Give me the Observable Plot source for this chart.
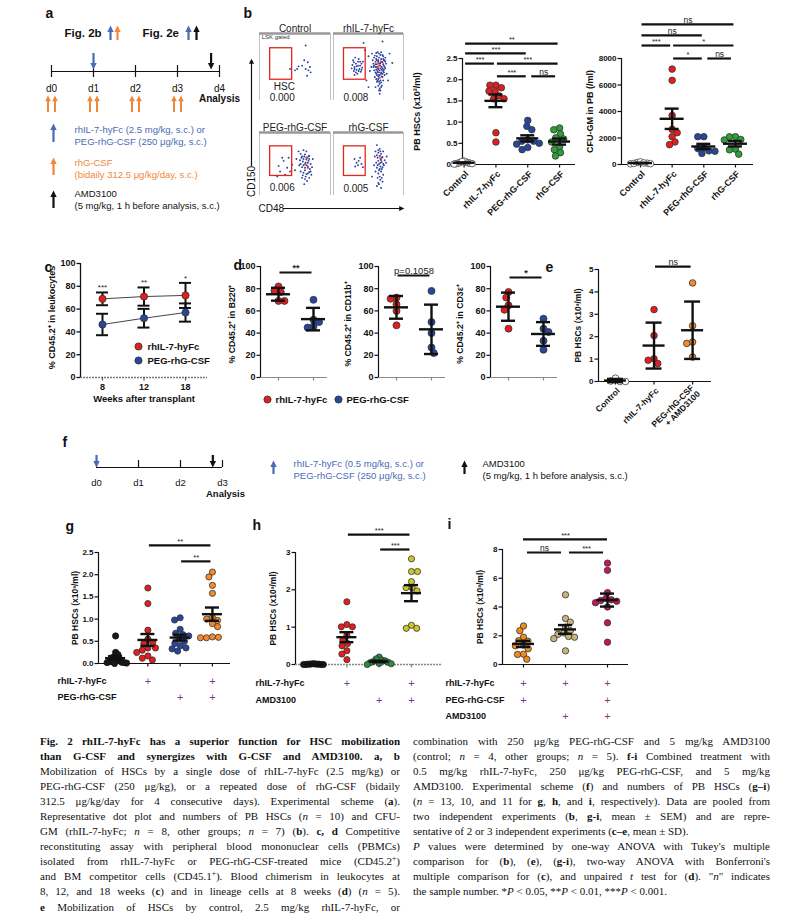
<!DOCTYPE html>
<html>
<head>
<meta charset="utf-8">
<title>Fig. 2</title>
<script src="https://cdn.jsdelivr.net/npm/d3@7"></script>
<script src="https://cdn.jsdelivr.net/npm/@observablehq/plot@0.6"></script>
<style>
html,body{margin:0;padding:0;background:#fff;}
#page{position:relative;width:806px;height:920px;overflow:hidden;background:#fff;}
#page svg{position:absolute;left:0;top:0;}
.cap{position:absolute;top:733.5px;font-family:"Liberation Serif","Times New Roman",serif;font-size:11px;line-height:15.1px;color:#111;}
.cap div{text-align:justify;text-align-last:justify;white-space:nowrap;}
.cap div.l{text-align:left;text-align-last:left;}
.cap sup{font-size:7.5px;line-height:0;vertical-align:4px;}
</style>
</head>
<body>
<div id="page">
<div class="cap" style="left:40px;width:360px">
<div><b>Fig. 2 rhIL-7-hyFc has a superior function for HSC mobilization</b></div>
<div><b>than G-CSF and synergizes with G-CSF and AMD3100. a, b</b></div>
<div>Mobilization of HSCs by a single dose of rhIL-7-hyFc (2.5 mg/kg) or</div>
<div>PEG-rhG-CSF (250 μg/kg), or a repeated dose of rhG-CSF (bidaily</div>
<div>312.5 μg/kg/day for 4 consecutive days). Experimental scheme (<b>a</b>).</div>
<div>Representative dot plot and numbers of PB HSCs (<i>n</i> = 10) and CFU-</div>
<div>GM (rhIL-7-hyFc; <i>n</i> = 8, other groups; <i>n</i> = 7) (<b>b</b>). <b>c, d</b> Competitive</div>
<div>reconstituting assay with peripheral blood mononuclear cells (PBMCs)</div>
<div>isolated from rhIL-7-hyFc or PEG-rhG-CSF-treated mice (CD45.2<sup>+</sup>)</div>
<div>and BM competitor cells (CD45.1<sup>+</sup>). Blood chimerism in leukocytes at</div>
<div>8, 12, and 18 weeks (<b>c</b>) and in lineage cells at 8 weeks (<b>d</b>) (<i>n</i> = 5).</div>
<div><b>e</b> Mobilization of HSCs by control, 2.5 mg/kg rhIL-7-hyFc, or</div>
</div>
<div class="cap" style="left:413px;width:357px">
<div>combination with 250 μg/kg PEG-rhG-CSF and 5 mg/kg AMD3100</div>
<div>(control; <i>n</i> = 4, other groups; <i>n</i> = 5). <b>f-i</b> Combined treatment with</div>
<div>0.5 mg/kg rhIL-7-hyFc, 250 μg/kg PEG-rhG-CSF, and 5 mg/kg</div>
<div>AMD3100. Experimental scheme (<b>f</b>) and numbers of PB HSCs (<b>g–i</b>)</div>
<div>(<i>n</i> = 13, 10, and 11 for <b>g</b>, <b>h</b>, and <b>i</b>, respectively). Data are pooled from</div>
<div>two independent experiments (<b>b</b>, <b>g-i</b>, mean ± SEM) and are repre-</div>
<div class="l">sentative of 2 or 3 independent experiments (<b>c–e</b>, mean ± SD).</div>
<div><i>P</i> values were determined by one-way ANOVA with Tukey's multiple</div>
<div>comparison for (<b>b</b>), (<b>e</b>), (<b>g-i</b>), two-way ANOVA with Bonferroni's</div>
<div>multiple comparison for (<b>c</b>), and unpaired <i>t</i> test for (<b>d</b>). "<i>n</i>" indicates</div>
<div class="l">the sample number. *<i>P</i> &lt; 0.05, **<i>P</i> &lt; 0.01, ***<i>P</i> &lt; 0.001.</div>
</div>
</div>
<script>
// ===================== DATA =====================
// a: experimental scheme (days)
const aDayLabels = ["d0", "d1", "d2", "d3", "d4"];
const aGcsfDays = [0, 1, 2, 3];
const aSingleDoseDays = [1];
const aAmdDays = [3.8];
const aLegend = ["rhIL-7-hyFc (2.5 mg/kg, s.c.) or", "PEG-rhG-CSF (250 μg/kg, s.c.)",
  "rhG-CSF", "(bidaily 312.5 μg/kg/day, s.c.)",
  "AMD3100", "(5 mg/kg, 1 h before analysis, s.c.)"];

// b: representative flow plots (CD48, CD150)
const bFlowTitles = ["Control", "rhIL-7-hyFc", "PEG-rhG-CSF", "rhG-CSF"];
const bFlowFreq = ["0.000", "0.008", "0.006", "0.005"];
const bFlowControl = [[65,82],[68,57],[60,52],[55,51],[53,47],[65,47],[69,45],[72,42],[67,37],[43,47],[63,60],[71,50],[50,45]];
const bFlowRhIL7 = [[28,60],[32,55],[30,50],[35,58],[38,52],[26,48],[33,46],[36,62],[40,55],[29,44],[34,40],[37,47],[31,64],[41,49],[27,53],[39,43],[42,58],[30,38],
  [29,57],[33,51],[36,44],[38,58],[30,47],[35,52],[40,46],[32,42],
  [55,70],[58,64],[60,58],[62,66],[64,60],[66,55],[68,62],[70,57],[60,50],[63,48],[66,45],[69,50],[72,52],[58,45],[61,40],[65,38],[68,42],[71,44],[74,48],[62,54],[67,68],[57,55],[59,35],[64,32],[67,30],[70,35],[73,38],[62,28],[66,25],[69,22],[72,60],[75,55],[63,72],[70,68],[56,60],[54,50],[52,44],[50,66],[76,40],[65,15],[60,20],[61,62],[65,64],[69,46],[63,42],[71,62],[57,50],[74,64],[66,10],
  [59,67],[61,71],[65,70],[68,72],[71,66],[73,60],[74,58],[62,60],[64,58],[67,56],[69,58],[71,54],[73,50],[60,54],[62,50],[64,47],[67,52],[70,48],[72,46],[58,52],[61,46],[63,44],[65,42],[68,40],[70,40],[72,42],[60,42],[62,38],[64,36],[66,38],[69,36],[71,30],[61,32],[63,30],[65,28],[68,27],[64,22],[66,18],[68,20],[67,15],
  [43,86],[70,88],[80,70],[78,30],[47,30],[50,20],[45,75],[84,56]];
const bFlowRhIL7Hi = [[65,52],[67,48],[64,56],[66,34],[68,58],[63,50]];
const bFlowPEG = [[32,60],[34,55],[27,47],[39,44],[43,38],[29,38],[36,33],[25,30],[41,60],[46,49],
  [55,70],[58,66],[62,72],[60,62],[64,65],[67,60],[70,63],[57,56],[61,54],[65,52],[69,55],[72,50],[56,48],[60,45],[64,44],[68,46],[71,42],[74,45],[58,38],[62,36],[66,34],[70,37],[73,33],[60,28],[64,26],[67,23],[70,28],[63,18],[52,58],[75,58],[50,40],[66,70],
  [59,60],[63,62],[66,57],[68,52],[70,58],[62,48],[66,48],[64,40],[68,35],[72,38],[61,32],[65,30],[58,50],[62,58],[69,62]];
const bFlowPEGHi = [[66,60],[68,44],[64,50]];
const bFlowRhG = [[30,58],[33,52],[36,55],[40,50],[31,46],[38,60],[42,45],[35,48],
  [62,80],[66,74],[60,70],[64,68],[68,66],[71,70],[59,62],[63,60],[67,58],[70,61],[73,56],[61,52],[65,50],[69,53],[72,48],[75,52],[62,44],[66,42],[70,45],[60,38],[64,35],[68,38],[71,33],[63,28],[67,25],[70,22],[65,18],[68,12],[62,15],[58,48],[76,62],[55,30],
  [64,72],[67,70],[62,64],[66,62],[69,60],[64,55],[67,52],[71,50],[63,48],[67,46],[65,40],[69,42],[66,30],[69,28],[64,20]];
const bFlowRhGHi = [[66,63],[68,56]];
const bGate = [15, 46, 31, 78];

// b: PB HSCs (x10^3/ml) and CFU-GM (/ml)
const bGroups = ["Control", "rhIL-7-hyFc", "PEG-rhG-CSF", "rhG-CSF"];
const bHscControl = [0.05, 0.03, 0.02, 0.06, 0.08, 0.01, 0.04, 0.03, 0.02, 0.07];
const bHscRhIL7 = [1.87, 1.87, 1.81, 1.73, 1.73, 1.62, 1.55, 1.55, 0.75, 0.53];
const bHscPEG = [1.04, 0.90, 0.82, 0.58, 0.55, 0.55, 0.50, 0.48, 0.40, 0.35];
const bHscRhG = [0.86, 0.82, 0.72, 0.63, 0.60, 0.53, 0.42, 0.35, 0.28, 0.20];
const bHscSig = [[0, 3, "**"], [0, 2, "***"], [0, 1, "***"], [1, 3, "***"], [1, 2, "***"], [2, 3, "ns"]];
const bCfuControl = [100, 150, 50, 200, 80, 120, 60];
const bCfuRhIL7 = [7200, 6350, 3700, 2650, 2400, 2100, 1700, 1500];
const bCfuPEG = [2100, 2100, 1260, 1200, 1030, 1000, 830];
const bCfuRhG = [2100, 2090, 1890, 1850, 1160, 1110, 780];
const bCfuSig = [[0, 3, "ns"], [0, 2, "ns"], [0, 1, "***"], [1, 3, "*"], [1, 2, "*"], [2, 3, "ns"]];

// c: % CD45.2+ in leukocytes
const cWeeks = [8, 12, 18];
const cSeries = ["rhIL-7-hyFc", "PEG-rhG-CSF"];
const cRhIL7Mean = [69, 71, 72];
const cRhIL7SD = [5.6, 8, 11];
const cPEGMean = [46.5, 52, 57];
const cPEGSD = [9.4, 8.2, 8];
const cStars = ["***", "**", "*"];

// d: % CD45.2+ in lineages at 8 weeks
const dLineages = ["B220⁺", "CD11b⁺", "CD3ε⁺"];
const dRhIL7 = [[82, 78, 77, 69, 69], [72, 71, 66, 60, 47], [77, 72, 65, 61, 44]];
const dPEG = [[70, 52, 50, 46, 45], [78, 50, 40, 27, 22], [53, 44, 41, 33, 25]];
const dSig = ["**", "p=0.1058", "*"];

// e: PB HSCs
const eGroups = ["Control", "rhIL-7-hyFc", "PEG-rhG-CSF\n+ AMD3100"];
const eControl = [0, 0.15, 0.02, 0];
const eRhIL7 = [3.21, 2.05, 1.01, 0.95, 0.80];
const ePegAmd = [4.40, 2.49, 1.76, 1.70, 1.09];

// f: scheme
const fDayLabels = ["d0", "d1", "d2", "d3"];
const fSingleDoseDays = [0];
const fAmdDays = [2.77];
const fLegendBlue = ["rhIL-7-hyFc (0.5 mg/kg, s.c.) or", "PEG-rhG-CSF (250 μg/kg, s.c.)"];
const fLegendBlack = ["AMD3100", "(5 mg/kg, 1 h before analysis, s.c.)"];

// g
const gControl = [0.62, 0.25, 0.20, 0.15, 0.10, 0.08, 0.05, 0.04, 0.03, 0.02, 0.02, 0.01, 0.00];
const gRhIL7 = [1.70, 1.35, 0.75, 0.55, 0.47, 0.45, 0.35, 0.35, 0.30, 0.25, 0.17, 0.12, 0.08];
const gPEG = [1.03, 0.98, 0.77, 0.68, 0.65, 0.62, 0.55, 0.50, 0.45, 0.40, 0.35, 0.33, 0.28];
const gCombo = [2.06, 1.95, 1.76, 1.58, 1.04, 1.00, 0.97, 0.90, 0.83, 0.60, 0.59, 0.58, 0.58];
const gSig = [[1, 3, "**"], [2, 3, "**"]];
const gRows = ["rhIL-7-hyFc", "PEG-rhG-CSF"];
const gPlus = [[0, 1, 0, 1], [0, 0, 1, 1]];

// h
const hControl = [0.02, 0.01, 0.0, 0.01, 0.0, 0.02, 0.0, 0.01, 0.0, 0.01];
const hRhIL7 = [1.68, 1.07, 1.01, 1.01, 0.78, 0.66, 0.56, 0.50, 0.37, 0.28, 0.13];
const hAMD = [0.20, 0.15, 0.12, 0.10, 0.08, 0.06, 0.05, 0.03, 0.02, 0.0];
const hCombo = [2.83, 2.49, 2.49, 2.22, 2.06, 1.97, 1.05, 0.97, 0.97, 2.06];
const hSig = [[1, 3, "***"], [2, 3, "***"]];
const hRows = ["rhIL-7-hyFc", "AMD3100"];
const hPlus = [[0, 1, 0, 1], [0, 0, 1, 1]];

// i
const iRhIL7PEG = [2.68, 2.35, 1.90, 1.65, 1.62, 1.35, 1.30, 1.10, 0.72, 0.70, 0.37];
const iRhIL7AMD = [4.85, 3.20, 2.95, 2.60, 2.35, 2.20, 2.10, 1.95, 1.90, 1.80, 0.95];
const iTriple = [7.05, 6.55, 5.00, 4.60, 4.50, 4.45, 4.40, 4.30, 4.00, 2.90, 1.55];
const iSig = [[0, 2, "***"], [0, 1, "ns"], [1, 2, "***"]];
const iRows = ["rhIL-7-hyFc", "PEG-rhG-CSF", "AMD3100"];
const iPlus = [[1, 1, 1], [1, 0, 1], [0, 1, 1]];

const panelLetters = ["a", "b", "c", "d", "e", "f", "g", "h", "i"];

// ===================== LAYOUT / STYLE =====================
const FONT = '"Liberation Sans", Arial, Helvetica, sans-serif';
const RED = "#e31e1e", NAVY = "#27469c", GREEN = "#2f9f3a", ORANGE = "#f48a2c";
const BLUE_A = "#4a6cb6", ORANGE_A = "#f0873a";
const page = document.getElementById("page");
const letterPos = [[45, 18], [243, 18], [44, 272], [233, 270], [545, 272], [62, 447], [65, 531], [252, 530], [447, 529]];

function geom(fx0, fx1, fy0, fy1, xd, yd) {
  return {
    fx0, fx1, fy0, fy1, xd, yd,
    ux: p => xd[0] + (p - fx0) * (xd[1] - xd[0]) / (fx1 - fx0),
    uy: p => yd[0] + (fy1 - p) * (yd[1] - yd[0]) / (fy1 - fy0),
    dxu: n => n * (xd[1] - xd[0]) / (fx1 - fx0),
    dyu: n => n * (yd[1] - yd[0]) / (fy1 - fy0)
  };
}
function render(g, marks) {
  const svg = Plot.plot({
    width: 806, height: 920,
    marginLeft: g.fx0, marginRight: 806 - g.fx1, marginTop: g.fy0, marginBottom: 920 - g.fy1,
    x: {type: "linear", domain: g.xd, axis: null},
    y: {type: "linear", domain: g.yd, axis: null},
    style: {background: "transparent", fontFamily: FONT, overflow: "visible"},
    marks
  });
  page.appendChild(svg);
}
const triUp = {draw(c, s) { const r = Math.sqrt(s / Math.PI); c.moveTo(0, -r * 1.1); c.lineTo(r, r * 0.9); c.lineTo(-r, r * 0.9); c.closePath(); }};
const triDown = {draw(c, s) { const r = Math.sqrt(s / Math.PI); c.moveTo(0, r * 1.1); c.lineTo(r, -r * 0.9); c.lineTo(-r, -r * 0.9); c.closePath(); }};
const triRight = {draw(c, s) { const r = Math.sqrt(s / Math.PI); c.moveTo(r * 1.1, 0); c.lineTo(-r * 0.9, r); c.lineTo(-r * 0.9, -r); c.closePath(); }};
// arrows in plots whose y scale is in page pixels
function arrows(xs, tail, tip, color, r = 3.2, sw = 2.2) {
  const up = tip < tail;
  return [
    Plot.ruleX(xs, {x: d => d, y1: tail, y2: up ? tip + r * 1.6 : tip - r * 1.6, stroke: color, strokeWidth: sw}),
    Plot.dot(xs, {x: d => d, y: up ? tip + r * 1.1 : tip - r * 1.1, r, symbol: up ? triUp : triDown, fill: color})
  ];
}
function swarm(values, pyu, D, maxHalf) {
  const idx = values.map((v, i) => i).sort((a, b) => values[b] - values[a]);
  const placed = [], out = new Array(values.length).fill(0);
  idx.forEach((i, k) => {
    const y = values[i] * pyu;
    const cands = [0];
    placed.forEach(p => {
      const dy = Math.abs(y - p.y);
      if (dy < D) { const dx = Math.sqrt(D * D - dy * dy); cands.push(p.x + dx, p.x - dx); }
    });
    cands.sort((a, b) => Math.abs(a) - Math.abs(b) || (k % 2 ? a - b : b - a));
    let best = cands[cands.length - 1];
    for (const c of cands) {
      if (placed.every(p => (p.x - c) ** 2 + (p.y - y) ** 2 >= D * D - 0.01)) { best = c; break; }
    }
    placed.push({x: best, y}); out[i] = best;
  });
  const m = d3.max(out, Math.abs) || 0;
  const s = m > maxHalf ? maxHalf / m : 1;
  return out.map(o => o * s);
}
function yTitle(label, dx, size, dy) {
  return Plot.text([label], {frameAnchor: "left", dx, dy: dy || 0, rotate: -90, textAnchor: "middle", lineAnchor: "middle",
    text: d => d, fontSize: size || 9, fontWeight: "bold", fill: "#111"});
}

function dotPanel(o) {
  const g = o.g;
  const pyu = (g.fy1 - g.fy0) / (g.yd[1] - g.yd[0]);
  const xc = o.xAxisColor || "#111";
  const marks = [
    Plot.ruleY([g.yd[0]], {stroke: xc, strokeWidth: o.xAxisWidth || 1.2, strokeDasharray: o.xAxisDash}),
    Plot.ruleX([g.xd[0]], {stroke: "#111", strokeWidth: 1.2}),
    Plot.ruleY(o.yTicks, {y: d => d, x1: g.xd[0] - g.dxu(3.5), x2: g.xd[0], stroke: "#111", strokeWidth: 1.2}),
    Plot.text(o.yTicks, {x: g.xd[0], y: d => d, text: o.yFmt, textAnchor: "end", dx: -5, fontSize: o.yFont || 8, fontWeight: "bold", fill: "#111"}),
    Plot.ruleX(o.groups.map((_, i) => i), {x: d => d, y1: g.yd[0], y2: g.yd[0] - g.dyu(3.5), stroke: xc, strokeWidth: 1.2}),
    yTitle(o.yLabel, o.yLabelDx, o.yLabelSize, o.yLabelDy)
  ];
  const stats = [];
  o.groups.forEach((grp, i) => {
    const off = swarm(grp.values, pyu, o.swarmD || 6, grp.maxHalf || o.maxHalf || 12);
    const pts = grp.values.map((v, j) => ({x: i + g.dxu(off[j]), y: v}));
    marks.push(Plot.dot(pts, {x: "x", y: "y", r: o.r || 3.2, fill: grp.fill, stroke: grp.stroke || "#333", strokeWidth: 0.8}));
    const m = d3.mean(grp.values), sd = d3.deviation(grp.values);
    const e = o.stat === "sem" ? sd / Math.sqrt(grp.values.length) : sd;
    stats.push({i, m, lo: m - e, hi: m + e});
  });
  const mh = o.meanHalf || 11, ch = o.capHalf || 7, sw = o.statWidth || 2.4;
  marks.push(
    Plot.ruleX(stats, {x: "i", y1: "lo", y2: "hi", stroke: "#111", strokeWidth: sw}),
    Plot.ruleY(stats, {y: "m", x1: d => d.i - g.dxu(mh), x2: d => d.i + g.dxu(mh), stroke: "#111", strokeWidth: sw}),
    Plot.ruleY(stats, {y: "lo", x1: d => d.i - g.dxu(ch), x2: d => d.i + g.dxu(ch), stroke: "#111", strokeWidth: sw}),
    Plot.ruleY(stats, {y: "hi", x1: d => d.i - g.dxu(ch), x2: d => d.i + g.dxu(ch), stroke: "#111", strokeWidth: sw})
  );
  (o.sig || []).forEach(s => {
    const sh = g.dxu(s.shrink == null ? 1.5 : s.shrink);
    marks.push(Plot.ruleY([s], {y: s.level, x1: s.a + sh, x2: s.b - sh, stroke: "#111", strokeWidth: 2.2}));
    marks.push(Plot.text([s], {x: (s.a + s.b) / 2, y: s.level, text: () => s.label, lineAnchor: "bottom", dy: -1.5,
      fontSize: s.size || (s.label === "ns" ? 8.5 : 7.5), fontWeight: s.weight || "normal", fill: "#222"}));
  });
  if (o.cats) {
    marks.push(Plot.text(o.cats, {x: (d, i) => i, y: g.yd[0], text: d => d, rotate: -45, textAnchor: "end", lineAnchor: "middle",
      dx: 3, dy: 8, fontSize: o.catSize || 9, fontWeight: "bold", fill: "#111"}));
  }
  if (o.rows) {
    o.rows.forEach((lab, r) => {
      const yy = g.uy(o.rowY[r]);
      marks.push(Plot.text([lab], {x: g.ux(o.rowX), y: yy, text: d => d, textAnchor: "start", fontSize: 9, fontWeight: "bold", fill: "#111"}));
      const pl = o.plus[r].map((v, i) => v ? i : null).filter(v => v !== null);
      marks.push(Plot.text(pl, {x: d => d, y: yy, text: () => "+", fontSize: 11, fill: "#7a3b8f"}));
    });
  }
  marks.push(...(o.extra || []));
  render(g, marks);
}

// ===================== PANEL LETTERS & flow axes =====================
{
  const g = geom(0, 806, 0, 920, [0, 806], [920, 0]);
  render(g, [
    Plot.text(panelLetters, {x: (d, i) => letterPos[i][0], y: (d, i) => letterPos[i][1] - 4.6, text: d => d, textAnchor: "start",
      fontSize: 14, fontWeight: "bold", fill: "#111"}),
    Plot.ruleX([251], {x: d => d, y1: 166, y2: 62, stroke: "#111", strokeWidth: 1.2}),
    Plot.dot([251], {x: d => d, y: 61, r: 2.6, symbol: triUp, fill: "#111"}),
    Plot.text(["CD150"], {x: 251, y: 181, text: d => d, rotate: -90, fontSize: 10, fill: "#111"}),
    Plot.text(["CD48"], {x: 258, y: 208, text: d => d, textAnchor: "start", fontSize: 10, fill: "#111"}),
    Plot.ruleY([208], {y: d => d, x1: 283, x2: 400, stroke: "#111", strokeWidth: 1.2}),
    Plot.dot([208], {x: 401, y: d => d, r: 2.6, symbol: triRight, fill: "#111"})
  ]);
}

// ===================== PANEL a =====================
{
  const g = geom(51, 219, 0, 920, [0, 4], [920, 0]);
  const px = g.ux;
  const legColors = [BLUE_A, BLUE_A, ORANGE_A, ORANGE_A, "#111", "#111"];
  const legY = [129, 141, 162, 174, 193, 205];
  render(g, [
    Plot.ruleY([71], {y: d => d, x1: 0, x2: 4, stroke: "#111", strokeWidth: 1.2}),
    Plot.ruleX(aDayLabels.map((d, i) => i), {x: d => d, y1: 65, y2: 77, stroke: "#111", strokeWidth: 1.2}),
    Plot.text(aDayLabels, {x: (d, i) => i, y: 88, text: d => d, fontSize: 10, fill: "#111"}),
    Plot.text(["Analysis"], {x: 4, y: 98, text: d => d, fontSize: 10, fontWeight: "bold", fill: "#111"}),
    ...arrows(aSingleDoseDays, 53, 69, BLUE_A),
    ...arrows(aAmdDays, 53, 69, "#111"),
    ...arrows(aGcsfDays.flatMap(d => [d - g.dxu(3.5), d + g.dxu(3.5)]), 112, 95, ORANGE_A, 2.9, 2),
    Plot.text(["Fig. 2b", "Fig. 2e"], {x: (d, i) => px([64, 142][i]), y: 33, text: d => d, textAnchor: "start", fontSize: 11.5, fontWeight: "bold", fill: "#111"}),
    ...arrows([px(110), px(188)], 40, 25, BLUE_A),
    ...arrows([px(117)], 40, 25, ORANGE_A),
    ...arrows([px(196)], 40, 25, "#111"),
    ...arrows([px(53)], 142, 123, BLUE_A),
    ...arrows([px(53)], 175, 157, ORANGE_A),
    ...arrows([px(53)], 208, 190, "#111"),
    Plot.text(aLegend, {x: px(74), y: (d, i) => legY[i], text: d => d, fill: (d, i) => legColors[i], textAnchor: "start", fontSize: 9.5})
  ]);
}

// ===================== PANEL b: flow plots =====================
function flowPanel(box, pts, hi, title, freq, freqY, extra) {
  const g = geom(box[0], box[1], box[2], box[3], [0, 100], [0, 100]);
  render(g, [
    Plot.dot(pts, {x: d => d[0], y: d => d[1], r: 0.95, fill: "#2c3e9c"}),
    Plot.dot(hi, {x: d => d[0], y: d => d[1], r: 1.1, fill: "#e3342a"}),
    Plot.rect([title], {x1: bGate[0], x2: bGate[1], y1: bGate[2], y2: bGate[3], fill: "none", stroke: "#e3261c", strokeWidth: 1.3}),
    Plot.ruleX([0, 100], {x: d => d, stroke: "#b3b3b3", strokeWidth: 0.8}),
    Plot.ruleY([100], {y: d => d, stroke: "#999", strokeWidth: 2.5}),
    Plot.text([title], {frameAnchor: "top", dy: -9, text: d => d, fontSize: 10, fill: "#222"}),
    Plot.text([freq], {x: 32, y: freqY, text: d => d, fontSize: 10, fill: "#222"}),
    ...(extra || [])
  ]);
}
flowPanel([259, 330, 33, 100], bFlowControl, [], bFlowTitles[0], bFlowFreq[0], 4, [
  Plot.text(["LSK gated"], {x: 3, y: 94, text: d => d, textAnchor: "start", fontSize: 6, fill: "#333"}),
  Plot.text(["HSC"], {x: 35, y: 20, text: d => d, fontSize: 10, fill: "#222"})
]);
flowPanel([333, 403, 33, 100], bFlowRhIL7, bFlowRhIL7Hi, bFlowTitles[1], bFlowFreq[1], 4);
flowPanel([259, 330, 132, 195], bFlowPEG, bFlowPEGHi, bFlowTitles[2], bFlowFreq[2], 12);
flowPanel([333, 403, 132, 195], bFlowRhG, bFlowRhGHi, bFlowTitles[3], bFlowFreq[3], 11);

// ===================== PANEL b: PB HSCs =====================
const b1Levels = [2.85, 2.62, 2.38, 2.38, 2.08, 2.08];
dotPanel({
  g: geom(462, 575, 58, 164, [-0.05, 3.5], [0, 2.5]),
  groups: [{values: bHscControl, fill: "#fff", stroke: "#444", maxHalf: 10}, {values: bHscRhIL7, fill: RED},
    {values: bHscPEG, fill: NAVY}, {values: bHscRhG, fill: GREEN}],
  stat: "sem", yTicks: [0, 0.5, 1, 1.5, 2, 2.5], yFmt: d => d.toFixed(1),
  yLabel: "PB HSCs (x10³/ml)", yLabelDx: -45, cats: bGroups, r: 3.3,
  sig: bHscSig.map((s, k) => ({a: s[0], b: s[1], label: s[2], level: b1Levels[k], shrink: k === 5 ? 4 : 1.5}))
});
// ===================== PANEL b: CFU-GM =====================
const b2Levels = [10570, 9740, 8980, 8980, 8000, 8000];
dotPanel({
  g: geom(621, 753, 58, 164, [-0.6, 3.57], [0, 8000]),
  groups: [{values: bCfuControl, fill: "#fff", stroke: "#444", maxHalf: 10}, {values: bCfuRhIL7, fill: RED},
    {values: bCfuPEG, fill: NAVY}, {values: bCfuRhG, fill: GREEN}],
  stat: "sem", yTicks: [0, 2000, 4000, 6000, 8000], yFmt: d => String(d),
  yLabel: "CFU-GM in PB (/ml)", yLabelDx: -31, cats: bGroups, r: 3.3, meanHalf: 12,
  sig: bCfuSig.map((s, k) => ({a: s[0], b: s[1], label: s[2], level: b2Levels[k], shrink: k === 5 ? 4 : 1.5}))
});

// ===================== PANEL c =====================
{
  const g = geom(80, 207, 263, 377, [-0.53, 2.53], [0, 100]);
  const idx = cWeeks.map((_, i) => i);
  const rh = idx.map(i => ({i, m: cRhIL7Mean[i], sd: cRhIL7SD[i]}));
  const pg = idx.map(i => ({i, m: cPEGMean[i], sd: cPEGSD[i]}));
  const yt = [0, 20, 40, 60, 80, 100];
  const eb = data => [
    Plot.ruleX(data, {x: "i", y1: d => d.m - d.sd, y2: d => d.m + d.sd, stroke: "#111", strokeWidth: 2}),
    Plot.ruleY(data, {y: d => d.m - d.sd, x1: d => d.i - g.dxu(6), x2: d => d.i + g.dxu(6), stroke: "#111", strokeWidth: 2}),
    Plot.ruleY(data, {y: d => d.m + d.sd, x1: d => d.i - g.dxu(6), x2: d => d.i + g.dxu(6), stroke: "#111", strokeWidth: 2})
  ];
  const legY = [346, 360];
  render(g, [
    Plot.ruleY([0], {y: d => d, stroke: "#777", strokeWidth: 1.6, strokeDasharray: "2,1"}),
    Plot.ruleX([g.xd[0]], {x: d => d, stroke: "#111", strokeWidth: 1.3}),
    Plot.ruleY(yt, {y: d => d, x1: g.xd[0] - g.dxu(3.5), x2: g.xd[0], stroke: "#111", strokeWidth: 1.3}),
    Plot.text(yt, {x: g.xd[0], y: d => d, text: d => String(d), textAnchor: "end", dx: -5, fontSize: 9, fontWeight: "bold", fill: "#111"}),
    Plot.ruleX(idx, {x: d => d, y1: 0, y2: -g.dyu(3.5), stroke: "#555", strokeWidth: 1.2}),
    Plot.text(cWeeks, {x: (d, i) => i, y: 0, text: d => String(d), dy: 9.5, fontSize: 9, fontWeight: "bold", fill: "#111"}),
    yTitle("% CD45.2⁺ in leukocytes", -28, 9, -3),
    Plot.text(["Weeks after transplant"], {frameAnchor: "bottom", lineAnchor: "middle", textAnchor: "middle", dy: 21, text: d => d, fontSize: 9.5, fontWeight: "bold", fill: "#111"}),
    Plot.line(rh, {x: "i", y: "m", stroke: "#444", strokeWidth: 1}),
    Plot.line(pg, {x: "i", y: "m", stroke: "#444", strokeWidth: 1}),
    ...eb(rh), ...eb(pg),
    Plot.dot(rh, {x: "i", y: "m", r: 3.6, fill: RED, stroke: "#333", strokeWidth: 0.8}),
    Plot.dot(pg, {x: "i", y: "m", r: 3.6, fill: NAVY, stroke: "#333", strokeWidth: 0.8}),
    Plot.text(rh, {x: "i", y: d => d.m + d.sd, text: d => cStars[d.i], lineAnchor: "bottom", dy: -2, fontSize: 8, fill: "#222"}),
    Plot.dot(cSeries, {x: g.ux(138), y: (d, i) => g.uy(legY[i]), r: 3.6, fill: (d, i) => [RED, NAVY][i], stroke: "#333", strokeWidth: 0.8}),
    Plot.text(cSeries, {x: g.ux(147), y: (d, i) => g.uy(legY[i]), text: d => d, textAnchor: "start", fontSize: 9.5, fontWeight: "bold", fill: "#111"})
  ]);
}

// ===================== PANEL d =====================
const dX0 = [260, 378, 490];
const dLabelDx = [-28, -30, -30];
const dLevels = [94.6, 91.9, 90.1];
dLineages.forEach((lin, k) => {
  const g = geom(dX0[k], dX0[k] + 67, 266, 377, [-0.514, 1.4], [0, 100]);
  const extra = [];
  if (k === 0) {
    const lx = [267, 338];
    extra.push(
      Plot.dot(cSeries, {x: (d, i) => g.ux(lx[i]), y: g.uy(399), r: 3.6, fill: (d, i) => [RED, NAVY][i], stroke: "#333", strokeWidth: 0.8}),
      Plot.text(cSeries, {x: (d, i) => g.ux(lx[i] + 8), y: g.uy(399), text: d => d, textAnchor: "start", fontSize: 9.5, fontWeight: "bold", fill: "#111"})
    );
  }
  dotPanel({
    g, groups: [{values: dRhIL7[k], fill: RED}, {values: dPEG[k], fill: NAVY}],
    stat: "sd", yTicks: [0, 20, 40, 60, 80, 100], yFmt: d => String(d), yFont: 9,
    yLabel: "% CD45.2⁺ in " + lin, yLabelDx: dLabelDx[k], yLabelSize: 8.7, yLabelDy: 2, xAxisColor: "#8a8a8a", r: 3.5, meanHalf: 12, capHalf: 7,
    sig: [{a: 0, b: 1, label: dSig[k], level: dLevels[k], size: k === 1 ? 9.5 : 9, weight: k === 1 ? "normal" : "bold"}],
    extra
  });
});

// ===================== PANEL e =====================
dotPanel({
  g: geom(598, 711, 269, 381, [-0.44, 2.49], [0, 5]),
  groups: [{values: eControl, fill: "#fff", stroke: "#444", maxHalf: 10}, {values: eRhIL7, fill: RED}, {values: ePegAmd, fill: ORANGE}],
  stat: "sd", yTicks: [0, 1, 2, 3, 4, 5], yFmt: d => String(d),
  yLabel: "PB HSCs (x10³/ml)", yLabelDx: -20, yLabelSize: 8.5, cats: eGroups, catSize: 8.5, r: 3.3, meanHalf: 11, capHalf: 8,
  sig: [{a: 1, b: 2, label: "ns", level: 5.13, size: 9}]
});

// ===================== PANEL f =====================
{
  const g = geom(96, 222, 0, 920, [0, 3], [920, 0]);
  const px = g.ux;
  render(g, [
    Plot.ruleY([467], {y: d => d, x1: 0, x2: 3, stroke: "#111", strokeWidth: 1.2}),
    Plot.ruleX(fDayLabels.map((d, i) => i), {x: d => d, y1: 460, y2: 467, stroke: "#111", strokeWidth: 1.2}),
    Plot.text(fDayLabels, {x: (d, i) => i, y: 482, text: d => d, fontSize: 9.5, fill: "#111"}),
    Plot.text(["Analysis"], {x: 3 + g.dxu(3), y: 493, text: d => d, fontSize: 9.5, fontWeight: "bold", fill: "#111"}),
    ...arrows(fSingleDoseDays, 455, 467, BLUE_A),
    ...arrows(fAmdDays, 455, 467, "#111"),
    ...arrows([px(273)], 474, 460, BLUE_A),
    ...arrows([px(464)], 474, 460, "#111"),
    Plot.text(fLegendBlue, {x: px(293), y: (d, i) => [463, 475][i], text: d => d, textAnchor: "start", fontSize: 9.5, fill: BLUE_A}),
    Plot.text(fLegendBlack, {x: px(482), y: (d, i) => [463, 475][i], text: d => d, textAnchor: "start", fontSize: 9.5, fill: "#111"})
  ]);
}

// ===================== PANEL g =====================
const gLevels = [2.66, 2.30];
dotPanel({
  g: geom(98, 230, 552, 663, [-0.53, 3.56], [0, 2.5]),
  groups: [{values: gControl, fill: "#1a1a1a", stroke: "#111", maxHalf: 11}, {values: gRhIL7, fill: RED},
    {values: gPEG, fill: NAVY}, {values: gCombo, fill: ORANGE}],
  stat: "sem", yTicks: [0, 0.5, 1, 1.5, 2, 2.5], yFmt: d => d.toFixed(1),
  yLabel: "PB HSCs (x10³/ml)", yLabelDx: -23, yLabelSize: 8.5, r: 3.1, meanHalf: 10, capHalf: 7,
  sig: gSig.map((s, k) => ({a: s[0], b: s[1], label: s[2], level: gLevels[k]})),
  rows: gRows, plus: gPlus, rowX: 57, rowY: [681, 697]
});

// ===================== PANEL h =====================
const hLevels = [3.48, 3.08];
dotPanel({
  g: geom(295, 442, 552, 664, [-0.59, 3.96], [0, 3]),
  groups: [{values: hControl, fill: "#1a1a1a", stroke: "#111", maxHalf: 11}, {values: hRhIL7, fill: RED},
    {values: hAMD, fill: "#2e8a3e"}, {values: hCombo, fill: "#cbc726"}],
  stat: "sem", yTicks: [0, 1, 2, 3], yFmt: d => String(d), xAxisColor: "#888", xAxisDash: "2,1", xAxisWidth: 1.6,
  yLabel: "PB HSCs (x10³/ml)", yLabelDx: -22, yLabelSize: 8.5, r: 3.1, meanHalf: 10, capHalf: 7,
  sig: hSig.map((s, k) => ({a: s[0], b: s[1], label: s[2], level: hLevels[k]})),
  rows: hRows, plus: hPlus, rowX: 255, rowY: [683, 700]
});

// ===================== PANEL i =====================
const iLevels = [8.7, 7.79, 7.79];
dotPanel({
  g: geom(502, 628, 549, 664, [-0.5, 2.5], [0, 8]),
  groups: [{values: iRhIL7PEG, fill: "#f28a1e"}, {values: iRhIL7AMD, fill: "#c9b27b"}, {values: iTriple, fill: "#c0175d"}],
  stat: "sem", yTicks: [0, 2, 4, 6, 8], yFmt: d => String(d),
  yLabel: "PB HSCs (x10³/ml)", yLabelDx: -22, yLabelSize: 8.5, r: 3.2, meanHalf: 11, capHalf: 7,
  sig: iSig.map((s, k) => ({a: s[0], b: s[1], label: s[2], level: iLevels[k], shrink: k === 0 ? 0 : 4})),
  rows: iRows, plus: iPlus, rowX: 445, rowY: [683, 700, 716]
});
</script>
</body>
</html>
